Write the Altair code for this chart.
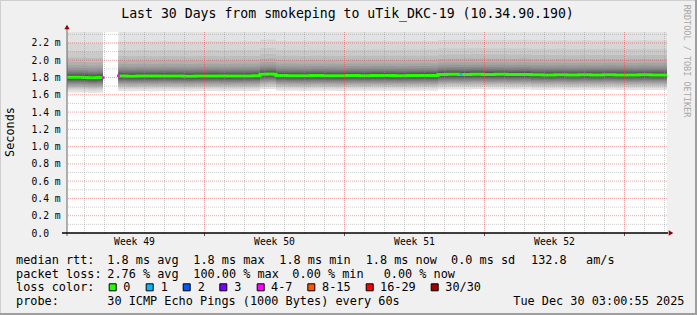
import altair as alt
import pandas as pd

# ---------------- data ----------------
TITLE = "Last 30 Days from smokeping to uTik_DKC-19 (10.34.90.190)"
Y_TITLE = "Seconds"
WATERMARK = "RRDTOOL / TOBI OETIKER"

# time in days since Sun Nov 30 03:00:55 2025 (graph end = day 30)
seg1_days = [0.0, 0.4, 0.8, 1.05, 1.3, 1.5, 1.8]
seg1_median = [1.802, 1.803, 1.801, 1.797, 1.796, 1.800, 1.802]

seg2_days = [2.57, 3.0, 3.5, 4.0, 4.6, 5.2, 5.8, 6.4, 7.0, 7.6,
             8.2, 8.8, 9.3, 9.65, 10.0, 10.3, 10.45, 11.0, 11.6, 12.2,
             12.8, 13.4, 14.0, 14.6, 15.2, 15.8, 16.4, 17.0, 17.6, 18.2,
             18.55, 19.0, 19.6, 20.2, 20.8, 21.4, 22.0, 22.6, 23.2, 23.8,
             24.4, 25.0, 25.6, 26.2, 26.8, 27.4, 28.0, 28.6, 29.2, 30.0]
seg2_median = [1.818, 1.816, 1.818, 1.817, 1.819, 1.818, 1.816, 1.818, 1.819, 1.817,
               1.818, 1.819, 1.820, 1.838, 1.841, 1.839, 1.822, 1.821, 1.820, 1.822,
               1.821, 1.820, 1.822, 1.821, 1.823, 1.822, 1.821, 1.823, 1.824, 1.823,
               1.835, 1.837, 1.836, 1.838, 1.836, 1.837, 1.835, 1.836, 1.831, 1.830,
               1.832, 1.829, 1.831, 1.830, 1.832, 1.830, 1.829, 1.831, 1.830, 1.830]

# sorted 30 ping rtt offsets from the median (ms), read from the smoke
ping_offsets = [-0.175, -0.150, -0.135, -0.122, -0.110, -0.097, -0.085, -0.072, -0.060, -0.050,
                -0.040, -0.030, -0.020, -0.012, -0.005,
                0.006, 0.013, 0.021, 0.030, 0.040, 0.053, 0.068, 0.085, 0.110, 0.140,
                0.180, 0.230, 0.300, 0.400, 0.700]

# loss events on the median line
loss_days = [1.8, 2.57, 19.7]
loss_values = [1.800, 1.820, 1.838]
loss_counts = ["4-7", "4-7", "1"]

y_ticks = [0.0, 0.2, 0.4, 0.6, 0.8, 1.0, 1.2, 1.4, 1.6, 1.8, 2.0, 2.2]
y_minor = [0.1, 0.3, 0.5, 0.7, 0.9, 1.1, 1.3, 1.5, 1.7, 1.9, 2.1, 2.3]
day_lines = [0.875 + k for k in range(30)]          # midnights
week_lines = [6.875, 13.875, 20.875, 27.875]        # week starts
week_labels = ["Week 49", "Week 50", "Week 51", "Week 52"]
week_centers = [3.375, 10.375, 17.375, 24.375]

legend_line1 = ["median rtt:", "1.8 ms avg", "1.8 ms max", "1.8 ms min",
                "1.8 ms now", "0.0 ms sd", "132.8", "am/s"]
legend_line2 = ["packet loss:", "2.76 % avg", "100.00 % max", "0.00 % min", "0.00 % now"]
legend_line3_head = ["loss color:"]
loss_labels = ["0", "1", "2", "3", "4-7", "8-15", "16-29", "30/30"]
loss_colors = ["#26ff00", "#00b8ff", "#0059ff", "#7e00ff", "#ff00ff", "#ff5500", "#ff0000", "#a00000"]
legend_line4 = ["probe:", "30 ICMP Echo Pings (1000 Bytes) every 60s", "Tue Dec 30 03:00:55 2025"]

# ---------------- layout ----------------
OX, OY = 67, 32          # plot origin in the page
W, H = 600, 201
FONT = "DejaVu Sans Mono"
line1_x = [16, 107.3, 193.3, 279.3, 365.7, 451, 531, 586]
line2_x = [16, 107.3, 193.3, 292.3, 383.7]
box_x = [112.7, 149.7, 186.7, 223.3, 260.7, 311.3, 369.7, 434.7]
lab_x = [123.3, 160.7, 197.7, 234.3, 271, 322, 380, 445.3]
line4_x = [16, 107.3, 513.3]
rows_y = [260, 273.5, 287.3, 301]

xscale = alt.Scale(domain=[0, 30], nice=False, zero=False)
yscale = alt.Scale(domain=[0, 2.327], nice=False, zero=False)
yaxis = alt.Axis(values=y_ticks, labelExpr="datum.value == 0 ? '0.0' : format(datum.value, '.1f') + ' m'",
                 labelAlign="left", labelPadding=36, ticks=False, domain=False, grid=False,
                 labelFont=FONT, labelFontSize=9.7, labelColor="black", title=None,
                 labelBaseline="middle")

X = lambda f: alt.X(f, scale=xscale, axis=None)
Y = lambda f: alt.Y(f, scale=yscale, axis=yaxis, title=None)

med = pd.DataFrame({
    "day": seg1_days + seg2_days,
    "m": seg1_median + seg2_median,
    "seg": ["a"] * len(seg1_days) + ["b"] * len(seg2_days),
})

layers = []
# smoke: 15 nested bands, outer light -> inner dark (smokeping palette)
half = 15
for i in range(1, 16):
    g = int(190 / half * (half - i)) + 50
    col = "#" + ("%02x" % g) * 3
    d = med.copy()
    d["lo"] = d["m"] + ping_offsets[i - 1]
    d["hi"] = d["m"] + ping_offsets[30 - i]
    layers.append(alt.Chart(d).mark_area(color=col, interpolate="step-after", clip=True).encode(
        x=X("day:Q"), y=Y("lo:Q"), y2="hi:Q", detail="seg:N"))

# median line
layers.append(alt.Chart(med).mark_line(color="#26ff00", strokeWidth=3, interpolate="step-after").encode(
    x=X("day:Q"), y=Y("m:Q"), detail="seg:N"))

loss_df = pd.DataFrame({"day": loss_days, "v": loss_values, "c": loss_counts})
layers.append(alt.Chart(loss_df).mark_square(size=7, opacity=1).encode(
    x=X("day:Q"), y=Y("v:Q"),
    color=alt.Color("c:N", scale=alt.Scale(domain=loss_labels, range=loss_colors), legend=None)))

# grid (on top, like rrdtool)
minor_days = [d for d in day_lines if d not in week_lines]
layers.append(alt.Chart(pd.DataFrame({"d": minor_days})).mark_rule(
    color="#8f8f8f", opacity=0.45, strokeDash=[1, 1], strokeWidth=1).encode(x=X("d:Q")))
layers.append(alt.Chart(pd.DataFrame({"v": y_minor})).mark_rule(
    color="#8f8f8f", opacity=0.45, strokeDash=[1, 1], strokeWidth=1, clip=True).encode(y=Y("v:Q")))
layers.append(alt.Chart(pd.DataFrame({"d": week_lines})).mark_rule(
    color="#de5050", opacity=0.55, strokeDash=[1, 1], strokeWidth=1).encode(x=X("d:Q")))
layers.append(alt.Chart(pd.DataFrame({"v": y_ticks[1:]})).mark_rule(
    color="#de5050", opacity=0.55, strokeDash=[1, 1], strokeWidth=1).encode(y=Y("v:Q")))

# x ticks at week lines
layers.append(alt.Chart(pd.DataFrame({"d": week_lines})).mark_rule(color="#555", strokeWidth=1).encode(
    x=X("d:Q"), y=alt.value(H), y2=alt.value(H + 3)))

one = pd.DataFrame({"a": [0]})
# axes lines + arrows
layers.append(alt.Chart(one).mark_rule(color="#666", strokeWidth=1).encode(
    x=alt.value(0), y=alt.value(H + 3), y2=alt.value(-4)))
layers.append(alt.Chart(one).mark_rule(color="#000", strokeWidth=1.5).encode(
    x=alt.value(-5), x2=alt.value(W + 1), y=alt.value(H)))
layers.append(alt.Chart(one).mark_point(shape="triangle-up", filled=True, size=28, color="#8b0000", opacity=1).encode(
    x=alt.value(0), y=alt.value(-5)))
layers.append(alt.Chart(one).mark_point(shape="triangle-right", filled=True, size=28, color="#8b0000", opacity=1).encode(
    x=alt.value(W + 4), y=alt.value(H)))

# week labels
layers.append(alt.Chart(pd.DataFrame({"c": week_centers, "t": week_labels})).mark_text(
    font=FONT, fontSize=9.7, color="black", baseline="middle", align="center").encode(
    x=X("c:Q"), y=alt.value(242 - OY), text="t:N"))

# page texts (pixel positions)
def txt_df(texts, xs, y):
    return pd.DataFrame({"t": texts, "x": [v - OX for v in xs], "y": [y - OY] * len(texts)})

leg = pd.concat([
    txt_df(legend_line1, line1_x, rows_y[0]),
    txt_df(legend_line2, line2_x, rows_y[1]),
    txt_df(legend_line3_head, [16], rows_y[2]),
    txt_df(loss_labels, lab_x, rows_y[2]),
    txt_df(legend_line4, line4_x, rows_y[3]),
], ignore_index=True)
PX = lambda f: alt.X(f, scale=None)
PY = lambda f: alt.Y(f, scale=None)
layers.append(alt.Chart(leg).mark_text(font=FONT, fontSize=11.85, color="black", align="left",
                                       baseline="middle").encode(x=PX("x:Q"), y=PY("y:Q"), text="t:N"))

boxes = pd.DataFrame({"x": [v - OX for v in box_x], "y": [rows_y[2] - OY] * 8, "c": loss_labels})
layers.append(alt.Chart(boxes).mark_square(size=49, filled=True, stroke="black", strokeWidth=1, opacity=1).encode(
    x=PX("x:Q"), y=PY("y:Q"),
    fill=alt.Fill("c:N", scale=alt.Scale(domain=loss_labels, range=loss_colors), legend=None)))

layers.append(alt.Chart(pd.DataFrame({"t": [TITLE]})).mark_text(
    font=FONT, fontSize=13.2, color="black", align="center", baseline="middle").encode(
    x=alt.value(347.5 - OX), y=alt.value(13.5 - OY), text="t:N"))
layers.append(alt.Chart(pd.DataFrame({"t": [Y_TITLE]})).mark_text(
    font=FONT, fontSize=11.85, color="black", align="center", baseline="middle", angle=270).encode(
    x=alt.value(10 - OX), y=alt.value(132 - OY), text="t:N"))
layers.append(alt.Chart(pd.DataFrame({"t": [WATERMARK]})).mark_text(
    font=FONT, fontSize=8.5, color="#a8a8a8", align="center", baseline="middle", angle=90).encode(
    x=alt.value(687 - OX), y=alt.value(61 - OY), text="t:N"))

# frame shading
frame = pd.DataFrame({
    "x1": [-OX, -OX, 697 - OX - 2, -OX],
    "x2": [-OX + 1, 697 - OX, 697 - OX, 697 - OX],
    "y1": [-OY, -OY, -OY, 315 - OY - 2],
    "y2": [315 - OY, -OY + 1, 315 - OY, 315 - OY],
    "c": ["#cfcfcf", "#cfcfcf", "#9e9e9e", "#9e9e9e"],
})
layers.append(alt.Chart(frame).mark_rect().encode(
    x=PX("x1:Q"), x2="x2:Q", y=PY("y1:Q"), y2="y2:Q", color=alt.Color("c:N", scale=None)))

chart = alt.layer(*layers).properties(
    width=W, height=H,
    autosize=alt.AutoSizeParams(type="none"),
    padding={"left": OX, "top": OY, "right": 697 - OX - W, "bottom": 315 - OY - H},
    background="#f0f0f0",
).configure_view(stroke=None, fill="white")

chart.save("out.html", embed_options={"renderer": "svg", "actions": False})
